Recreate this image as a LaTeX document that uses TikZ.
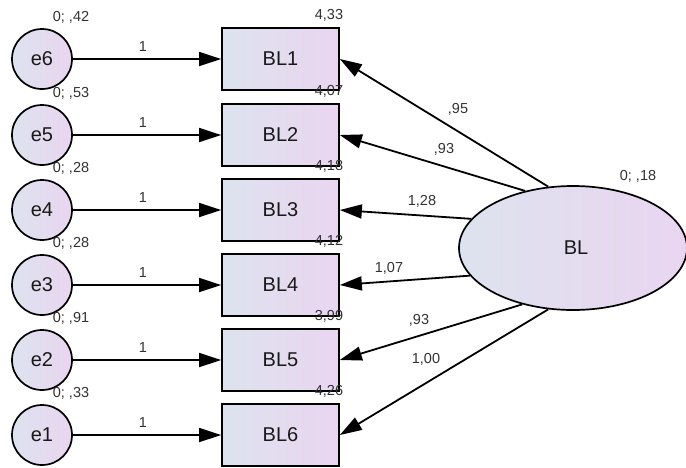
\documentclass[tikz,border=0pt]{standalone}
\usepackage{fontspec}
\setmainfont{Liberation Sans}
\usetikzlibrary{arrows.meta,shapes.geometric}
\definecolor{fillL}{RGB}{221,227,238}
\definecolor{fillR}{RGB}{234,213,240}
\definecolor{txt}{RGB}{25,25,25}
\definecolor{lbl}{RGB}{50,50,50}
\begin{document}
\begin{tikzpicture}[x=1pt,y=-1pt,
  obs/.style={draw, line width=1.7pt, rectangle, minimum width=117pt, minimum height=62pt, inner sep=0pt, left color=fillL, right color=fillR, font=\fontsize{20}{22}\selectfont, text=txt},
  err/.style={draw, circle, line width=1.7pt, minimum size=60pt, inner sep=0pt, left color=fillL, right color=fillR, font=\fontsize{20}{22}\selectfont, text=txt},
  lat/.style={draw, ellipse, line width=1.7pt, minimum width=228pt, minimum height=124pt, inner sep=0pt, left color=fillL, right color=fillR, font=\fontsize{20}{22}\selectfont, text=txt},
  lab/.style={font=\fontsize{14.5}{16}\selectfont, text=lbl, inner sep=0pt},
  arr/.style={line width=1.8pt, -{Triangle[length=22pt,width=14pt]}}
]
\useasboundingbox (0,0) rectangle (686,467);

% error terms
\node[err] (e6) at (42,59) {e6};
\node[err] (e5) at (42,135) {e5};
\node[err] (e4) at (42,210) {e4};
\node[err] (e3) at (42,285) {e3};
\node[err] (e2) at (42,360) {e2};
\node[err] (e1) at (42,435) {e1};

% observed
\node[obs] (BL1) at (280.5,59) {BL1};
\node[obs] (BL2) at (280.5,135) {BL2};
\node[obs] (BL3) at (280.5,210) {BL3};
\node[obs] (BL4) at (280.5,285) {BL4};
\node[obs] (BL5) at (280.5,360) {BL5};
\node[obs] (BL6) at (280.5,435) {BL6};

% latent
\node[lat] (BL) at (573,248) {\hspace{6pt}BL};

% error arrows
\draw[arr] (e6) -- (BL1.west);
\draw[arr] (e5) -- (BL2.west);
\draw[arr] (e4) -- (BL3.west);
\draw[arr] (e3) -- (BL4.west);
\draw[arr] (e2) -- (BL5.west);
\draw[arr] (e1) -- (BL6.west);

% loading arrows
\draw[arr] (BL.112.3) -- (BL1.east);
\draw[arr] (BL.130.8) -- (BL2.east);
\draw[arr] (BL.164.3) -- (BL3.east);
\draw[arr] (BL.195.2) -- (BL4.east);
\draw[arr] (BL.228.7) -- (BL5.east);
\draw[arr] (BL.248) -- (BL6.east);

% "1" labels
\node[lab] (w6) at (143,47) {1};
\node[lab] (w5) at (143,123) {1};
\node[lab] (w4) at (143,198) {1};
\node[lab] (w3) at (143,273) {1};
\node[lab] (w2) at (143,348) {1};
\node[lab] (w1) at (143,423) {1};

% variance labels
\node[lab] (v6) at (71,17) {0; ,42};
\node[lab] (v5) at (71,93) {0; ,53};
\node[lab] (v4) at (71,168) {0; ,28};
\node[lab] (v3) at (71,243) {0; ,28};
\node[lab] (v2) at (71,318) {0; ,91};
\node[lab] (v1) at (71,393) {0; ,33};
\node[lab] (vBL) at (638,176) {0; ,18};

% intercepts
\node[lab] (i1) at (329,15) {4,33};
\node[lab] (i2) at (329,91) {4,07};
\node[lab] (i3) at (329,166) {4,18};
\node[lab] (i4) at (329,241) {4,12};
\node[lab] (i5) at (329,316) {3,99};
\node[lab] (i6) at (329,391) {4,26};

% loadings
\node[lab] (l1) at (458,109) {,95};
\node[lab] (l2) at (444,149) {,93};
\node[lab] (l3) at (422,201) {1,28};
\node[lab] (l4) at (389,268) {1,07};
\node[lab] (l5) at (419,320) {,93};
\node[lab] (l6) at (426,359) {1,00};
\end{tikzpicture}
\end{document}
